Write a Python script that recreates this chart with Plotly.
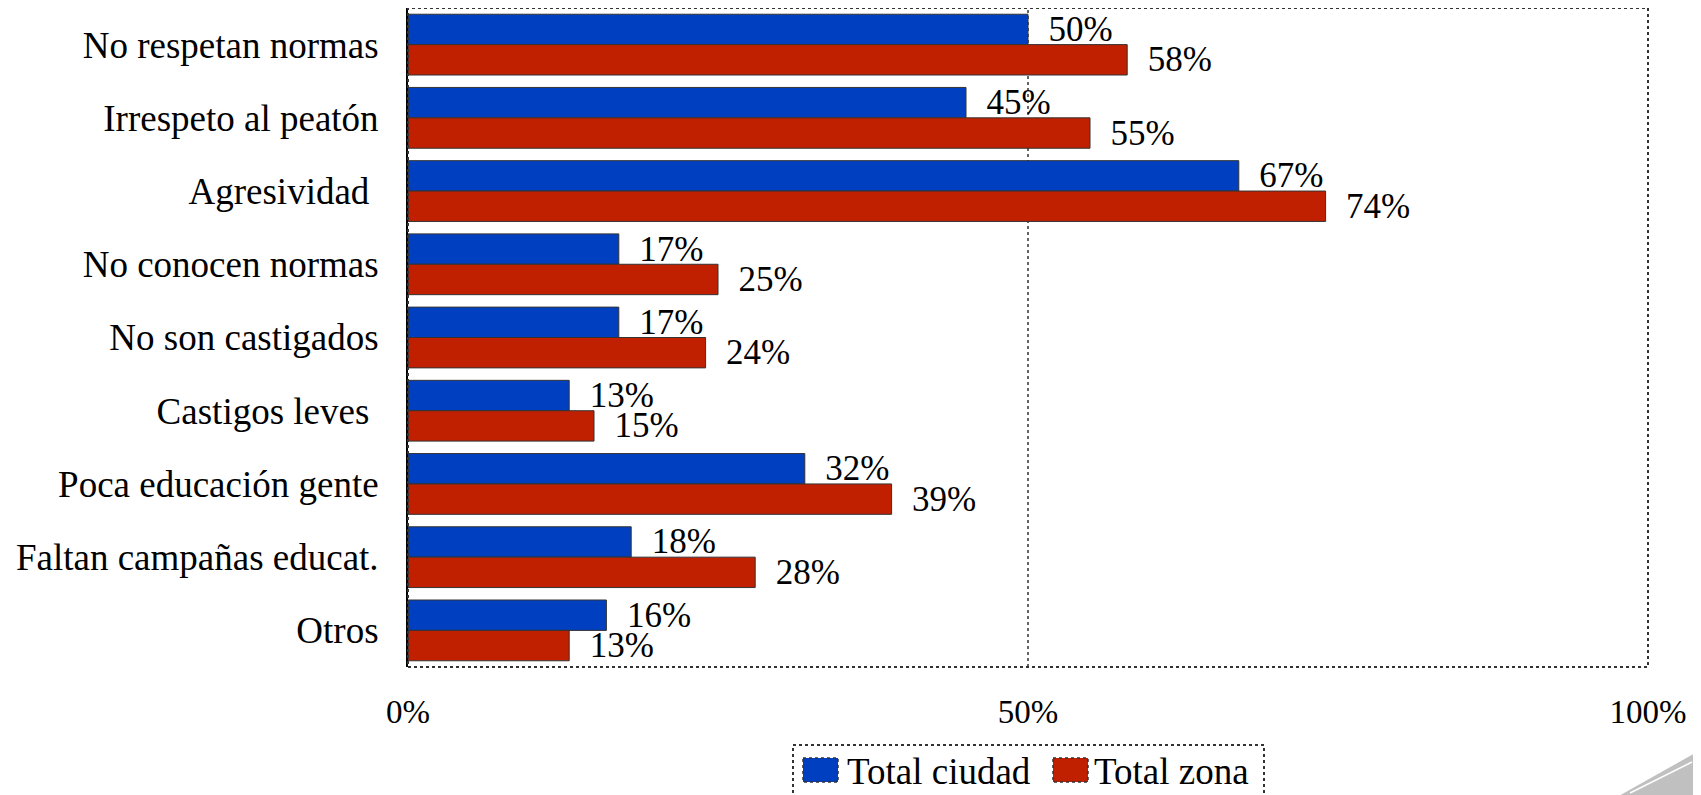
import plotly.graph_objects as go

categorias = [
    "No respetan normas",
    "Irrespeto al peatón",
    "Agresividad ",
    "No conocen normas",
    "No son castigados",
    "Castigos leves ",
    "Poca educación gente",
    "Faltan campañas educat.",
    "Otros",
]
total_ciudad = [50, 45, 67, 17, 17, 13, 32, 18, 16]
total_zona = [58, 55, 74, 25, 24, 15, 39, 28, 13]
ticks_x = [0, 50, 100]
ticks_x_txt = ["0%", "50%", "100%"]

series = [("Total ciudad", total_ciudad, "#0040c0"), ("Total zona", total_zona, "#c02000")]

fuente = "Liberation Serif"

# geometría (la página tiene un margen de 8 px en el body)
W, H = 1693, 787
ML, MR, MT, MB = 400, 53, 0, 128
PW, PH = W - ML - MR, H - MT - MB


def px(X):  # x de página -> paper
    return (X - 8 - ML) / PW


def py(Y):  # y de página -> paper
    return 1 - (Y - 8 - MT) / PH


fig = go.Figure()
for nombre, valores, color in series:
    fig.add_trace(go.Bar(
        y=categorias,
        x=valores,
        name=nombre,
        orientation="h",
        marker=dict(color=color, line=dict(color="#333333", width=1)),
        text=[f"\u2002{v}%" for v in valores],
        textposition="outside",
        constraintext="none",
        cliponaxis=False,
        textfont=dict(family=fuente, size=35, color="black"),
        showlegend=False,
    ))

fig.update_layout(
    width=W,
    height=H,
    barmode="group",
    bargap=0.17,
    bargroupgap=0,
    plot_bgcolor="white",
    paper_bgcolor="white",
    font=dict(family=fuente, size=36, color="black"),
    margin=dict(l=ML, r=MR, t=MT, b=MB, autoexpand=False),
    xaxis=dict(
        range=[0, 100],
        tickvals=ticks_x,
        ticktext=ticks_x_txt,
        showgrid=False,
        zeroline=False,
        showline=False,
        ticklabelstandoff=22,
        tickfont=dict(size=33),
    ),
    yaxis=dict(
        autorange="reversed",
        showline=True,
        linecolor="black",
        linewidth=2,
        ticklabelstandoff=20,
        tickfont=dict(size=37),
    ),
    showlegend=False,
)

# marco punteado del área de trazado y línea del 50%
fig.add_shape(type="rect", xref="x domain", yref="y domain", x0=0, x1=1, y0=0, y1=1,
              line=dict(color="#333333", width=2, dash="dot"), layer="above")
fig.add_shape(type="line", xref="x", yref="y domain", x0=50, x1=50, y0=0, y1=1,
              line=dict(color="#333333", width=1.5, dash="dot"), layer="below")

# leyenda dibujada a mano (cuadros grandes como en el original)
fig.add_shape(type="rect", xref="paper", yref="paper", x0=px(793), x1=px(1264), y0=py(745), y1=py(805),
              line=dict(color="#333333", width=2, dash="dot"), fillcolor="white")
for (nombre, _, color), xs, xt in zip(series, [803, 1053], [845, 1092]):
    fig.add_shape(type="rect", xref="paper", yref="paper", x0=px(xs), x1=px(xs + 35), y0=py(758), y1=py(782),
                  line=dict(color="#333333", width=1.5, dash="dot"), fillcolor=color)
    fig.add_annotation(x=px(xt), y=py(771), xref="paper", yref="paper", text=nombre, showarrow=False,
                       xanchor="left", yanchor="middle", font=dict(size=37))

# adorno gris de la esquina inferior derecha
fig.add_shape(type="path", xref="paper", yref="paper",
              path=f"M {px(1617)},{py(797)} L {px(1697)},{py(752)} L {px(1703)},{py(752)} L {px(1703)},{py(797)} Z",
              fillcolor="#c0c0c0", line=dict(width=0))
fig.add_shape(type="line", xref="paper", yref="paper", x0=px(1630), y0=py(793), x1=px(1692), y1=py(762),
              line=dict(color="white", width=1.5))

fig.write_html("out.html")
